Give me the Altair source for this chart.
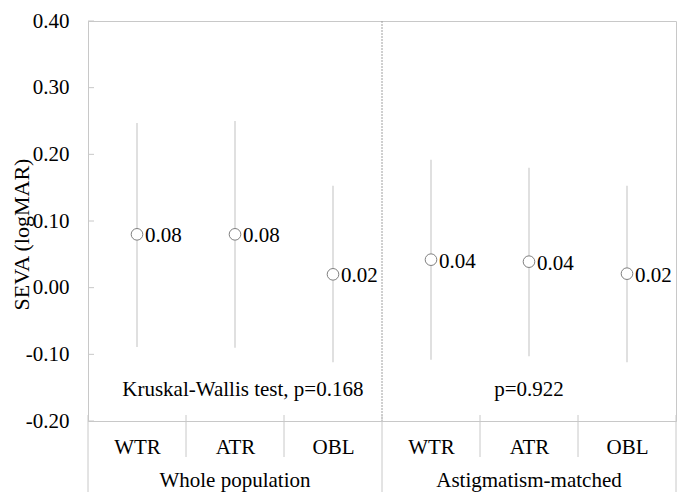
import altair as alt
import pandas as pd

# ---- data ----
categories = ["WTR", "ATR", "OBL", "WTR", "ATR", "OBL"]
means = [0.080, 0.080, 0.020, 0.042, 0.039, 0.021]
upper = [0.247, 0.250, 0.153, 0.192, 0.180, 0.153]
lower = [-0.089, -0.090, -0.112, -0.108, -0.103, -0.112]
group_names = ["Whole population", "Astigmatism-matched"]
group_centers = [1.5, 4.5]
test_texts = ["Kruskal-Wallis test, p=0.168", "p=0.922"]
test_x = [1.58, 4.5]
test_y = [-0.1625, -0.1625]
y_ticks = [-0.2, -0.1, 0.0, 0.1, 0.2, 0.3, 0.4]
short_seps = [1, 2, 4, 5]
long_seps = [0, 3, 6]

W, H = 588, 400
FONT = "Liberation Serif"
FS = 21
GRAY = "#c8c8c8"

pos = [i + 0.5 for i in range(len(categories))]
df = pd.DataFrame({"pos": pos, "cat": categories, "mean": means, "lo": lower, "hi": upper})
ticks_df = pd.DataFrame({"v": y_ticks})
short_df = pd.DataFrame({"x": short_seps})
long_df = pd.DataFrame({"x": long_seps})
groups_df = pd.DataFrame({"x": group_centers, "t": group_names})
tests_df = pd.DataFrame({"x": test_x, "y": test_y, "t": test_texts})
divider_df = pd.DataFrame({"x": [3], "y": [0.4], "y2": [-0.2]})

xscale = alt.Scale(domain=[0, 6], nice=False, zero=False)
yscale = alt.Scale(domain=[-0.2, 0.4], nice=False, zero=False)

label_expr = "[" + ",".join(f"'{c}'" for c in categories) + "][floor(datum.value)]"

x_axis = alt.Axis(values=pos, labelExpr=label_expr, ticks=False, tickSize=0, grid=False,
                  domain=True, domainColor=GRAY, labelFont=FONT, labelFontSize=FS,
                  labelColor="black", labelPadding=15, title=None)
y_axis = alt.Axis(values=y_ticks, labelExpr="replace(format(datum.value, '.2f'), '\u2212', '-')",
                  ticks=False, tickSize=0, grid=False, domain=True, domainColor=GRAY,
                  labelFont=FONT, labelFontSize=FS, labelColor="black", labelPadding=19,
                  title="SEVA (logMAR)", titleFont=FONT, titleFontSize=22,
                  titleFontWeight="normal", titleColor="black",
                  titleBaseline="alphabetic", titleX=-60, titleY=H / 2 + 13)

base = alt.Chart(df)

bars = base.mark_rule(color="#d0d0d0", strokeWidth=1.3).encode(
    x=alt.X("pos:Q", scale=xscale, axis=x_axis),
    y=alt.Y("lo:Q", scale=yscale, axis=y_axis),
    y2="hi:Q",
)

points = base.mark_point(shape="circle", size=135, filled=True, fill="white",
                         stroke="#7f7f7f", strokeWidth=1, opacity=1).encode(
    x=alt.X("pos:Q", scale=xscale),
    y=alt.Y("mean:Q", scale=yscale),
)

labels = base.mark_text(align="left", baseline="alphabetic", dx=8, dy=8,
                        font=FONT, fontSize=FS, color="black").encode(
    x=alt.X("pos:Q", scale=xscale),
    y=alt.Y("mean:Q", scale=yscale),
    text=alt.Text("mean:Q", format=".2f"),
)

inner_ticks = alt.Chart(ticks_df).mark_rule(color=GRAY).encode(
    x=alt.value(0), x2=alt.value(6), y=alt.Y("v:Q", scale=yscale),
)

divider = alt.Chart(divider_df).mark_rule(color="#a0a0a0", strokeDash=[2, 1]).encode(
    x=alt.X("x:Q", scale=xscale), y=alt.Y("y:Q", scale=yscale), y2="y2:Q",
)

short_rules = alt.Chart(short_df).mark_rule(color=GRAY).encode(
    x=alt.X("x:Q", scale=xscale), y=alt.value(H - 6), y2=alt.value(H + 36),
)
long_rules = alt.Chart(long_df).mark_rule(color=GRAY).encode(
    x=alt.X("x:Q", scale=xscale), y=alt.value(H - 6), y2=alt.value(H + 72),
)

group_text = alt.Chart(groups_df).mark_text(baseline="alphabetic", font=FONT, fontSize=FS,
                                            color="black").encode(
    x=alt.X("x:Q", scale=xscale), y=alt.value(H + 66), text="t:N",
)

test_text = alt.Chart(tests_df).mark_text(baseline="alphabetic", font=FONT, fontSize=FS,
                                          color="black").encode(
    x=alt.X("x:Q", scale=xscale), y=alt.Y("y:Q", scale=yscale), text="t:N",
)

chart = alt.layer(
    bars, inner_ticks, divider, short_rules, long_rules, points, labels, group_text, test_text
).properties(
    width=W, height=H,
    padding={"left": 80, "top": 13, "right": 1, "bottom": 71},
    autosize=alt.AutoSizeParams(type="none"),
).configure_view(stroke=GRAY, strokeWidth=1)

chart.save("out.html", embed_options={"renderer": "svg", "actions": False})
